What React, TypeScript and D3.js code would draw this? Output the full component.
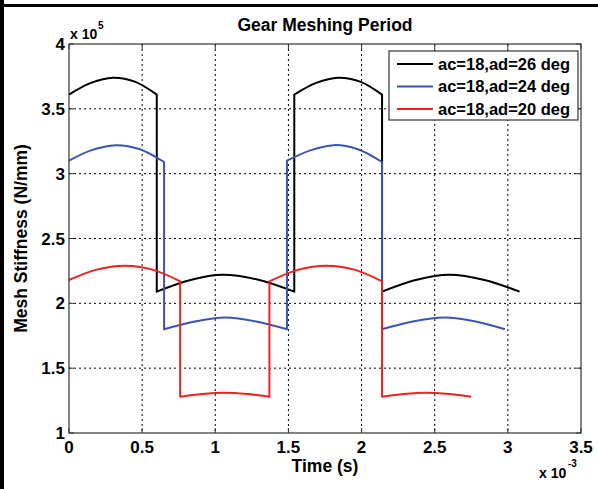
import { line, curveCatmullRom, scaleLinear } from "d3";

const W = 598;
const H = 489;
const M = { top: 44, right: 17, bottom: 56, left: 69 };

// time in 1e-3 s, stiffness in 1e5 N/mm
const xTicks = [0, 0.5, 1, 1.5, 2, 2.5, 3, 3.5];
const yTicks = [1, 1.5, 2, 2.5, 3, 3.5, 4];
const xTickLabels = ["0", "0.5", "1", "1.5", "2", "2.5", "3", "3.5"];
const yTickLabels = ["1", "1.5", "2", "2.5", "3", "3.5", "4"];

const ad26: [number, number][][] = [
  [[0, 3.61], [0.15, 3.7], [0.3, 3.74], [0.45, 3.71], [0.6, 3.61]],
  [[0.6, 2.09], [0.83, 2.18], [1.05, 2.22], [1.3, 2.18], [1.54, 2.09]],
  [[1.54, 3.61], [1.69, 3.7], [1.84, 3.74], [1.99, 3.71], [2.14, 3.61]],
  [[2.14, 2.09], [2.37, 2.18], [2.6, 2.22], [2.84, 2.18], [3.08, 2.09]],
];
const ad24: [number, number][][] = [
  [[0, 3.1], [0.15, 3.18], [0.32, 3.22], [0.48, 3.19], [0.65, 3.09]],
  [[0.65, 1.8], [0.86, 1.86], [1.07, 1.89], [1.28, 1.86], [1.49, 1.8]],
  [[1.49, 3.1], [1.65, 3.18], [1.81, 3.22], [1.97, 3.19], [2.14, 3.09]],
  [[2.14, 1.8], [2.35, 1.86], [2.57, 1.89], [2.78, 1.86], [2.98, 1.8]],
];
const ad20: [number, number][][] = [
  [[0, 2.18], [0.19, 2.26], [0.38, 2.29], [0.57, 2.26], [0.76, 2.17]],
  [[0.76, 1.28], [0.91, 1.3], [1.06, 1.31], [1.22, 1.3], [1.37, 1.28]],
  [[1.37, 2.17], [1.57, 2.26], [1.76, 2.29], [1.95, 2.26], [2.14, 2.17]],
  [[2.14, 1.28], [2.29, 1.3], [2.44, 1.31], [2.6, 1.3], [2.75, 1.28]],
];

const seriesNames = ["ac=18,ad=26 deg", "ac=18,ad=24 deg", "ac=18,ad=20 deg"];
const seriesData = [ad26, ad24, ad20];
const seriesColors = ["#000000", "#3a55b0", "#f02020"];

const FONT = "'Liberation Sans', Arial, sans-serif";

export default function App() {
  const x = scaleLinear().domain([0, 3.5]).range([M.left, W - M.right]);
  const y = scaleLinear().domain([1, 4]).range([H - M.bottom, M.top]);
  const seg = line<[number, number]>()
    .x((d) => x(d[0]))
    .y((d) => y(d[1]))
    .curve(curveCatmullRom.alpha(0.5));

  // join the segments; the jumps between them become vertical strokes
  const paths = seriesData.map((segs) =>
    segs.map((s, i) => {
      const p = seg(s) ?? "";
      return i === 0 ? p : p.replace(/^M/, "L");
    }).join("")
  );

  const x0 = x(0), x1 = x(3.5), y0 = y(1), y1 = y(4);
  const lg = { x: 389, y: 51, w: 189, h: 69 };

  return (
    <svg width={W} height={H} style={{ position: "absolute", left: 0, top: 0, background: "#fff" }} fontFamily={FONT} fontWeight="bold">
      {/* figure frame */}
      <line x1={2} x2={2} y1={0} y2={H} stroke="#000" strokeWidth={4} />
      <line x1={0} x2={W} y1={5.5} y2={5.5} stroke="#000" strokeWidth={3} />

      {/* grid */}
      {xTicks.slice(1, -1).map((t) => (
        <line key={`gx${t}`} x1={x(t)} x2={x(t)} y1={y1} y2={y0} stroke="#000" strokeWidth={1} strokeDasharray="2 3" />
      ))}
      {yTicks.slice(1, -1).map((t) => (
        <line key={`gy${t}`} x1={x0} x2={x1} y1={y(t)} y2={y(t)} stroke="#000" strokeWidth={1} strokeDasharray="2 3" />
      ))}

      {/* ticks */}
      {xTicks.map((t) => (
        <g key={`tx${t}`} stroke="#333">
          <line x1={x(t)} x2={x(t)} y1={y0} y2={y0 - 5} />
          <line x1={x(t)} x2={x(t)} y1={y1} y2={y1 + 5} />
        </g>
      ))}
      {yTicks.map((t) => (
        <g key={`ty${t}`} stroke="#333">
          <line x1={x0} x2={x0 + 5} y1={y(t)} y2={y(t)} />
          <line x1={x1} x2={x1 - 5} y1={y(t)} y2={y(t)} />
        </g>
      ))}

      {/* series */}
      {paths.map((d, i) => (
        <path key={seriesNames[i]} d={d} fill="none" stroke={seriesColors[i]} strokeWidth={2} strokeLinejoin="round" />
      ))}

      <rect x={x0} y={y1} width={x1 - x0} height={y0 - y1} fill="none" stroke="#333" strokeWidth={1.2} />

      {/* tick labels */}
      {xTicks.map((t, i) => (
        <text key={`lx${t}`} x={x(t)} y={y0 + 20} textAnchor="middle" fontSize={17}>
          {xTickLabels[i]}
        </text>
      ))}
      {yTicks.map((t, i) => (
        <text key={`ly${t}`} x={x0 - 4} y={y(t)} dy="0.36em" textAnchor="end" fontSize={17}>
          {yTickLabels[i]}
        </text>
      ))}

      <text x={70} y={39} fontSize={14}>x 10</text>
      <text x={98} y={29} fontSize={10}>5</text>
      <text x={539} y={478} fontSize={14}>x 10</text>
      <text x={568} y={467} fontSize={10}>-3</text>

      <text x={(x0 + x1) / 2} y={31} textAnchor="middle" fontSize={17.5}>Gear Meshing Period</text>
      <text x={(x0 + x1) / 2} y={472} textAnchor="middle" fontSize={17.5}>Time (s)</text>
      <text transform={`translate(27,${(y0 + y1) / 2}) rotate(-90)`} textAnchor="middle" fontSize={17.5}>
        Mesh Stiffness (N/mm)
      </text>

      {/* legend */}
      <rect x={lg.x} y={lg.y} width={lg.w} height={lg.h} fill="#fff" stroke="#333" strokeWidth={1.2} />
      {seriesNames.map((n, i) => (
        <g key={n} transform={`translate(${lg.x},${lg.y + 13 + i * 22.5})`}>
          <line x1={8} x2={44} y1={0} y2={0} stroke={seriesColors[i]} strokeWidth={2} />
          <text x={49} y={0} dy="0.36em" fontSize={16.5}>{n}</text>
        </g>
      ))}
    </svg>
  );
}
